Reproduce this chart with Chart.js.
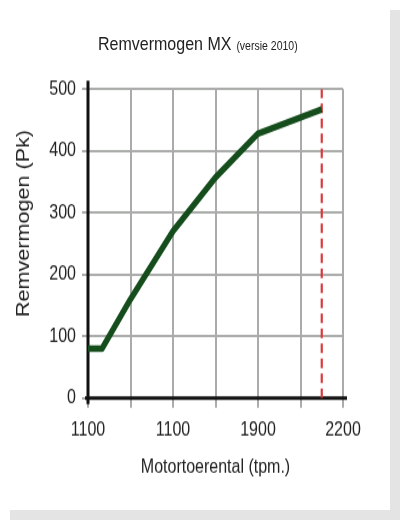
<!DOCTYPE html>
<html><head><meta charset="utf-8">
<script src="https://cdn.jsdelivr.net/npm/chart.js@4.4.1/dist/chart.umd.min.js"></script>
<style>
html,body{margin:0;padding:0;background:#fff;width:400px;height:520px;overflow:hidden;}
#shadow{position:absolute;left:10px;top:10px;width:390px;height:510px;background:#e4e4e4;}
#page{position:absolute;left:0;top:0;width:390px;height:510px;background:#fff;}
#wrap{position:absolute;left:0;top:0;width:400px;height:433px;transform:scale(1,1.2);transform-origin:0 0;}
#title{position:absolute;left:98px;top:29px;font-family:'Liberation Sans',Arial,sans-serif;color:#222;white-space:nowrap;line-height:16px;}
#title .main{font-size:16px;}
#title .sub{font-size:10.5px;margin-left:5px;}
canvas{position:absolute;left:0;top:0;}
</style></head><body>
<div id="shadow"></div><div id="page"></div>
<div id="wrap">
  <div id="title"><span class="main">Remvermogen MX</span><span class="sub">(versie 2010)</span></div>
  <canvas id="c" width="400" height="433"></canvas>
</div>
<script>
// ---- data ----
const xTickLabels = ['1100', '', '1100', '', '1900', '', '2200'];
const rpmPositions = [0, 0.33, 1, 2, 3, 4, 5.5];
const powerPk = [80, 80, 160, 270, 357, 428, 467];
const limitPositions = [5.5, 5.5];
const limitValues = [0, 500];
const yAxisTitle = 'Remvermogen (Pk)';
const xAxisTitle = 'Motortoerental (tpm.)';

const FONT = "'Liberation Sans', Arial, sans-serif";
const GRID = '#a9aca9';
const TEXT = '#222';

const yTitlePlugin = {
  id: 'yTitle',
  afterDraw(chart) {
    const ctx = chart.ctx;
    ctx.save();
    ctx.translate(28.5, 186.25);
    ctx.rotate(-Math.PI / 2);
    ctx.font = '18px ' + FONT;
    ctx.fillStyle = TEXT;
    ctx.textAlign = 'center';
    ctx.textBaseline = 'alphabetic';
    ctx.fillText(yAxisTitle, 0, 0);
    ctx.restore();
  }
};

const axisLinesPlugin = {
  id: 'axisLines',
  beforeDatasetsDraw(chart) {
    const a = chart.chartArea, ctx = chart.ctx;
    ctx.save();
    ctx.strokeStyle = '#111';
    ctx.lineWidth = 3;
    ctx.beginPath();
    ctx.moveTo(a.left, a.top - 7);
    ctx.lineTo(a.left, a.bottom + 5);
    ctx.moveTo(a.left - 3, a.bottom);
    ctx.lineTo(a.right + 4, a.bottom);
    ctx.stroke();
    ctx.restore();
  }
};

new Chart(document.getElementById('c'), {
  type: 'line',
  data: {
    datasets: [
      {
        data: rpmPositions.map((x, i) => ({ x, y: powerPk[i] })),
        borderColor: '#164d1d',
        borderWidth: 5.5,
        pointRadius: 0,
        tension: 0,
        borderJoinStyle: 'round',
        borderCapStyle: 'butt',
        fill: false
      },
      {
        data: limitPositions.map((x, i) => ({ x, y: limitValues[i] })),
        borderColor: '#d8393c',
        borderWidth: 2.2,
        borderDash: [8, 4.5],
        pointRadius: 0,
        fill: false
      }
    ]
  },
  options: {
    responsive: false,
    animation: false,
    devicePixelRatio: 1,
    layout: { padding: { left: 0, top: 74.2, right: 57, bottom: 31.3 } },
    plugins: { legend: { display: false }, tooltip: { enabled: false }, title: { display: false } },
    scales: {
      x: {
        type: 'linear', min: 0, max: 6,
        afterFit(s) { s.height = 70; },
        border: { display: false },
        grid: { color: GRID, lineWidth: 2, tickLength: 8, tickColor: GRID },
        ticks: {
          stepSize: 1, autoSkip: false, maxRotation: 0, padding: 9,
          color: TEXT, font: { family: FONT, size: 16 },
          callback: (v) => xTickLabels[v] !== undefined ? xTickLabels[v] : ''
        },
        title: { display: true, text: xAxisTitle, color: TEXT, font: { family: FONT, size: 16 }, padding: { top: 0, bottom: 2.9 } }
      },
      y: {
        min: 0, max: 500,
        afterFit(s) { s.width = 88; },
        border: { display: false },
        grid: { color: GRID, lineWidth: 2, tickLength: 6, tickColor: GRID },
        ticks: { stepSize: 100, padding: 6, color: TEXT, font: { family: FONT, size: 16 } }
      }
    }
  },
  plugins: [yTitlePlugin, axisLinesPlugin]
});
</script>
</body></html>
